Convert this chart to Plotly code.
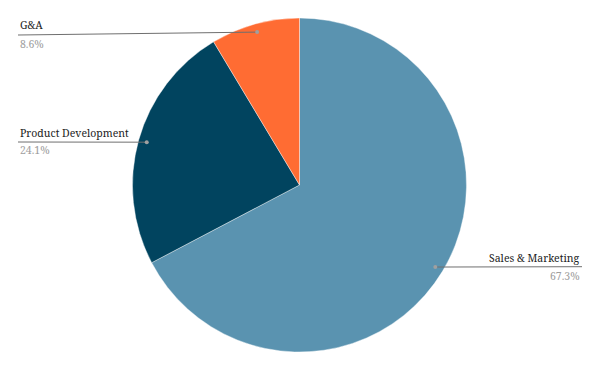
import math
import plotly.graph_objects as go

labels = ["Sales & Marketing", "Product Development", "G&A"]
values = [67.3, 24.1, 8.6]
colors = ["#5A93B0", "#01445F", "#FF6C33"]

W, H = 600, 371
CX, CY, R = 299.5, 185.0, 167.0
FONT = "Noto Serif, DejaVu Serif, serif"
FSIZE = 10.5

fig = go.Figure(go.Pie(
    labels=labels, values=values, sort=False, direction="clockwise", rotation=0,
    marker=dict(colors=colors, line=dict(color="white", width=0.4)),
    textinfo="none", hoverinfo="label+percent", showlegend=False,
    domain=dict(x=[(CX - R) / W, (CX + R) / W], y=[1 - (CY + R) / H, 1 - (CY - R) / H]),
))

# label layout (pixel positions): (text x, anchor, line-end y, name y, pct y)
label_layout = {
    "G&A": (18, "left", 35, 25, 44),
    "Product Development": (18, "left", 142, 132.5, 150),
    "Sales & Marketing": (582, "right", 266.7, 257.5, 276),
}

def px(x, y):
    return x / W, 1 - y / H

total = sum(values)
cum = 0
shapes, annotations = [], []
for lab, v in zip(labels, values):
    mid = (cum + v / 2) / total * 2 * math.pi
    cum += v
    dx = CX + 0.95 * R * math.sin(mid)
    dy = CY - 0.95 * R * math.cos(mid)
    tx, anchor, ly, ny, py = label_layout[lab]
    x0, y0 = px(dx, dy)
    x1, y1 = px(tx, ly)
    shapes.append(dict(type="line", xref="paper", yref="paper", x0=x0, y0=y0, x1=x1, y1=y1,
                       line=dict(color="#6f6f6f", width=1)))
    a0, b0 = px(dx - 2, dy - 2)
    a1, b1 = px(dx + 2, dy + 2)
    shapes.append(dict(type="circle", xref="paper", yref="paper", x0=a0, y0=b1, x1=a1, y1=b0,
                       fillcolor="#a0a0a0", line=dict(width=0)))
    nx, nyp = px(tx, ny)
    annotations.append(dict(text=lab, xref="paper", yref="paper", x=nx, y=nyp, xanchor=anchor,
                            yanchor="middle", showarrow=False,
                            font=dict(family=FONT, size=FSIZE, color="#222222")))
    _, pyp = px(tx, py)
    annotations.append(dict(text=f"{v:.1f}%", xref="paper", yref="paper", x=nx, y=pyp, xanchor=anchor,
                            yanchor="middle", showarrow=False,
                            font=dict(family=FONT, size=FSIZE, color="#9e9e9e")))

fig.update_layout(width=W, height=H, margin=dict(l=0, r=0, t=0, b=0),
                  paper_bgcolor="white", plot_bgcolor="white",
                  shapes=shapes, annotations=annotations)
fig.write_html("out.html")
